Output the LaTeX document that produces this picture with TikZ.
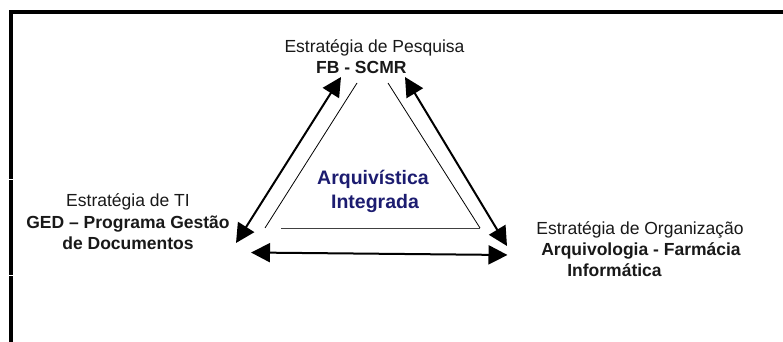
\documentclass[tikz,border=0pt]{standalone}
\usepackage{fontspec}
\setmainfont{Liberation Sans}
\usetikzlibrary{arrows.meta}
\definecolor{navy}{RGB}{28,28,112}
\definecolor{txt}{RGB}{25,25,25}
\tikzset{
  lbl/.style={anchor=base, inner sep=0pt, text=txt, font=\fontsize{17.5}{21}\selectfont},
  lblb/.style={lbl, font=\fontsize{17.5}{21}\selectfont\bfseries},
  center/.style={anchor=base, inner sep=0pt, text=navy, font=\fontsize{19.5}{23}\selectfont\bfseries},
  dbl/.style={line width=2pt, {Triangle[length=19pt,width=19pt]}-{Triangle[length=19pt,width=19pt]}},
  thin/.style={line width=0.8pt, black},
  frame/.style={line width=4pt, black}
}
\begin{document}
\begin{tikzpicture}[x=1pt,y=-1pt]
\useasboundingbox (0,0) rectangle (783,342);
\fill[white] (0,0) rectangle (783,342);
% frame
\draw[frame] (11,342) -- (11,12.5) -- (783,12.5);
\draw[white, line width=1pt] (8,179.5) -- (14,179.5);
\draw[white, line width=1pt] (8,275.5) -- (14,275.5);
% labels
\node[lbl]  (tp1) at (374.5,52.7) {Estratégia de Pesquisa};
\node[lblb] (tp2) at (361.3,73.5) {FB - SCMR};
\node[lbl]  (lf1) at (128,206.7) {Estratégia de TI};
\node[lblb] (lf2) at (128,228) {GED – Programa Gestão};
\node[lblb] (lf3) at (128,249.5) {de Documentos};
\node[lbl]  (rt1) at (640,234.3) {Estratégia de Organização};
\node[lblb] (rt2) at (641,255) {Arquivologia - Farmácia};
\node[lblb] (rt3) at (614.5,276) {Informática};
\node[center] (c1) at (373,184) {Arquivística};
\node[center] (c2) at (375,208) {Integrada};
% inner triangle
\coordinate (iT1) at (357,83);
\coordinate (iT2) at (388,83);
\coordinate (iL) at (265,228);
\coordinate (iR) at (480,228);
\coordinate (iB) at (281,228);
\draw[thin] (iT1) -- (iL);
\draw[thin] (iT2) -- (iR);
\draw[thin, black!75, line width=1pt] (iB) -- (iR);
% double arrows
\coordinate (aT1) at (341,77);
\coordinate (aL1) at (236,243);
\coordinate (aT2) at (405,77);
\coordinate (aR1) at (507,246);
\coordinate (aL2) at (251,252.5);
\coordinate (aR2) at (507.5,255);
\draw[dbl] (aL1) -- (aT1);
\draw[dbl] (aT2) -- (aR1);
\draw[dbl] (aL2) -- (aR2);
\end{tikzpicture}
\end{document}
